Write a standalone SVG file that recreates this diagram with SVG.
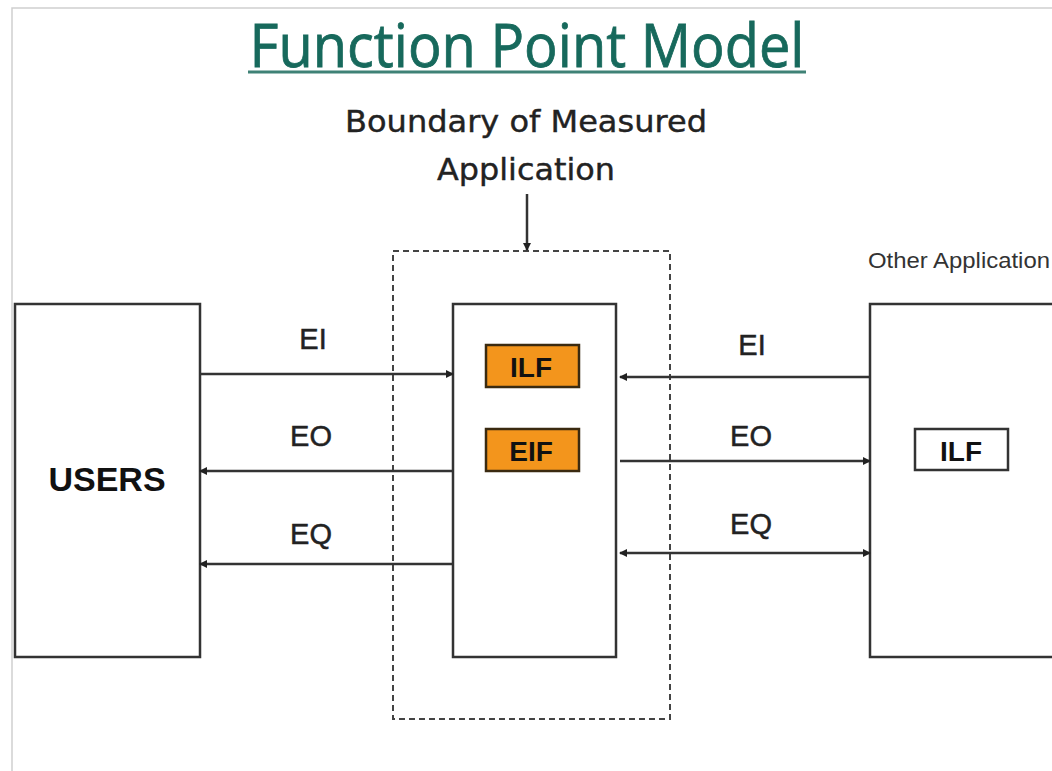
<svg xmlns="http://www.w3.org/2000/svg" width="1052" height="771" viewBox="0 0 1052 771">
<style>
.box{fill:#fff;stroke:#333;stroke-width:2.5}
.file{fill:#f3951c;stroke:#3a2a10;stroke-width:2.5}
.lbl{font-family:"Liberation Sans",Arial,sans-serif;font-size:29px;fill:#222;stroke:#222;stroke-width:0.5;text-anchor:middle}
.bold{font-family:"Liberation Sans",Arial,sans-serif;font-weight:bold;fill:#111;text-anchor:middle}
.conn{stroke:#333;stroke-width:2.5;fill:none}
</style>
<defs>
<marker id="ah" markerWidth="8" markerHeight="8" refX="7" refY="4" orient="auto" markerUnits="userSpaceOnUse" viewBox="0 0 8 8">
<path d="M0,0 L8,4 L0,8 Z" fill="#222"/>
</marker>
<marker id="ahs" markerWidth="8" markerHeight="8" refX="1" refY="4" orient="auto" markerUnits="userSpaceOnUse" viewBox="0 0 8 8">
<path d="M8,0 L0,4 L8,8 Z" fill="#222"/>
</marker>
</defs>
<rect width="1052" height="771" fill="#fff"/>
<path d="M12,771 V8 H1052" fill="none" stroke="#cfcfcf" stroke-width="1.5"/>
<g id="title">
<text x="527" y="67" font-family="Open Sans,'Noto Sans',sans-serif" font-size="61" fill="#17695c" stroke="#17695c" stroke-width="0.8" text-anchor="middle" textLength="555" lengthAdjust="spacingAndGlyphs">Function Point Model</text>
<line x1="248" y1="72" x2="806" y2="72" stroke="#3f8276" stroke-width="3"/>
</g>
<g id="boundary-label">
<text x="526" y="132" font-family="'DejaVu Sans',Verdana,sans-serif" font-size="30" fill="#222" stroke="#222" stroke-width="0.4" text-anchor="middle" textLength="362" lengthAdjust="spacingAndGlyphs">Boundary of Measured</text>
<text x="526" y="180" font-family="'DejaVu Sans',Verdana,sans-serif" font-size="30" fill="#222" stroke="#222" stroke-width="0.4" text-anchor="middle" textLength="178" lengthAdjust="spacingAndGlyphs">Application</text>
</g>
<g id="boundary">
<rect x="393" y="251" width="277" height="468" fill="none" stroke="#444" stroke-width="2" stroke-dasharray="6,4"/>
</g>
<g id="users">
<rect class="box" x="15" y="304" width="185" height="353"/>
<text class="bold" x="107" y="491" font-size="34">USERS</text>
</g>
<g id="application">
<rect class="box" x="453" y="304" width="163" height="353"/>
<g id="app-ilf">
<rect class="file" x="486" y="345" width="93" height="42"/>
<text class="bold" x="531" y="377" font-size="28" fill="#2a1a08">ILF</text>
</g>
<g id="app-eif">
<rect class="file" x="486" y="429" width="93" height="42"/>
<text class="bold" x="531" y="461" font-size="28" fill="#2a1a08">EIF</text>
</g>
</g>
<g id="other-application">
<text x="868" y="268" font-family="'Liberation Sans',Arial,sans-serif" font-size="22" fill="#333" textLength="182" lengthAdjust="spacingAndGlyphs">Other Application</text>
<rect class="box" x="870" y="304" width="200" height="353"/>
<g id="other-ilf">
<rect x="915" y="429" width="93" height="41" fill="#fff" stroke="#333" stroke-width="2.5"/>
<text class="bold" x="961" y="461" font-size="28">ILF</text>
</g>
</g>
<g id="connectors">
<line class="conn" x1="527" y1="194" x2="527" y2="250" marker-end="url(#ah)"/>
<line class="conn" x1="200" y1="374" x2="453" y2="374" marker-end="url(#ah)"/>
<line class="conn" x1="453" y1="471" x2="200" y2="471" marker-end="url(#ah)"/>
<line class="conn" x1="453" y1="564" x2="200" y2="564" marker-end="url(#ah)" stroke="#555"/>
<line class="conn" x1="870" y1="377" x2="620" y2="377" marker-end="url(#ah)"/>
<line class="conn" x1="620" y1="461" x2="870" y2="461" marker-end="url(#ah)"/>
<line class="conn" x1="620" y1="553" x2="870" y2="553" marker-start="url(#ahs)" marker-end="url(#ah)" stroke="#555"/>
<text class="lbl" x="313" y="349">EI</text>
<text class="lbl" x="311" y="446">EO</text>
<text class="lbl" x="311" y="544">EQ</text>
<text class="lbl" x="752" y="355">EI</text>
<text class="lbl" x="751" y="446">EO</text>
<text class="lbl" x="751" y="534">EQ</text>
</g>
</svg>
